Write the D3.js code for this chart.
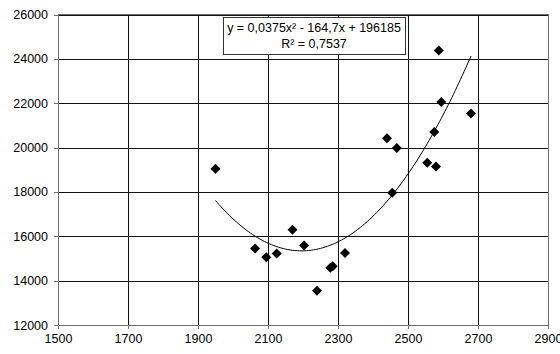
<!DOCTYPE html>
<html>
<head>
<meta charset="utf-8">
<script src="https://cdn.jsdelivr.net/npm/d3@7"></script>
<style>
  body { margin: 0; background: #fff; }
  text { font-family: "Liberation Sans", Arial, sans-serif; }
</style>
</head>
<body>
<div id="chart"></div>
<script>
// measured points (x, y)
const xValues = [1950, 2063, 2095, 2125, 2170, 2203, 2240, 2278, 2285, 2320,
                 2455, 2440, 2468, 2555, 2580, 2575, 2595, 2588, 2680];
const yValues = [19050, 15450, 15060, 15220, 16300, 15590, 13540, 14580, 14650, 15250,
                 17960, 20420, 19980, 19320, 19150, 20700, 22050, 24380, 21540];

const xTicks = [1500, 1700, 1900, 2100, 2300, 2500, 2700, 2900];
const yTicks = [12000, 14000, 16000, 18000, 20000, 22000, 24000, 26000];

// polynomial trendline, order 2: a*x^2 + b*x + c
const trendCoef = [0.0375, -164.7, 196185];
const trendLabel = ['y = 0,0375x² - 164,7x + 196185', 'R² = 0,7537'];

const width = 560;
const height = 354;
const margin = { top: 14.5, right: 12, bottom: 29, left: 58 };

const x = d3.scaleLinear()
    .domain([1500, 2900])
    .range([margin.left, width - margin.right]);

const y = d3.scaleLinear()
    .domain([12000, 26000])
    .range([height - margin.bottom, margin.top]);

const svg = d3.select('#chart')
    .append('svg')
    .attr('width', width)
    .attr('height', height);

// Gridlines
svg.append('g')
    .attr('transform', `translate(0,${y(12000)})`)
    .call(d3.axisBottom(x).tickValues(xTicks).tickSize(-(y(12000) - y(26000))).tickFormat(() => ''))
    .call(g => g.select('.domain').remove())
    .selectAll('line')
    .attr('stroke', '#111')
    .attr('shape-rendering', 'crispEdges');

svg.append('g')
    .attr('transform', `translate(${x(1500)},0)`)
    .call(d3.axisLeft(y).tickValues(yTicks).tickSize(-(x(2900) - x(1500))).tickFormat(() => ''))
    .call(g => g.select('.domain').remove())
    .selectAll('line')
    .attr('stroke', '#111')
    .attr('shape-rendering', 'crispEdges');

// Plot border (top/right)
svg.append('rect')
    .attr('x', x(1500))
    .attr('y', y(26000))
    .attr('width', x(2900) - x(1500))
    .attr('height', y(12000) - y(26000))
    .attr('fill', 'none')
    .attr('stroke', '#707070')
    .attr('shape-rendering', 'crispEdges');

// Axes
const xAxis = svg.append('g')
    .attr('transform', `translate(0,${y(12000)})`)
    .call(d3.axisBottom(x).tickValues(xTicks).tickSize(4).tickSizeOuter(0).tickPadding(5).tickFormat(d3.format('d')));
xAxis.select('.domain').attr('stroke', '#707070');
xAxis.selectAll('line').attr('stroke', '#707070');
xAxis.selectAll('text').attr('font-size', '12.5px').attr('fill', '#000');

const yAxis = svg.append('g')
    .attr('transform', `translate(${x(1500)},0)`)
    .call(d3.axisLeft(y).tickValues(yTicks).tickSize(4).tickSizeOuter(0).tickPadding(6).tickFormat(d3.format('d')));
yAxis.select('.domain').attr('stroke', '#707070');
yAxis.selectAll('line').attr('stroke', '#707070');
yAxis.selectAll('text').attr('font-size', '12.5px').attr('fill', '#000');

svg.selectAll('.tick line, .domain').attr('shape-rendering', 'crispEdges');

// Trendline
const xMin = d3.min(xValues);
const xMax = d3.max(xValues);
const curve = d3.range(xMin, xMax + 1, 5).map(v => [v, trendCoef[0] * v * v + trendCoef[1] * v + trendCoef[2]]);
svg.append('path')
    .datum(curve)
    .attr('fill', 'none')
    .attr('stroke', '#000')
    .attr('stroke-width', 1)
    .attr('d', d3.line().x(d => x(d[0])).y(d => y(d[1])));

// Points
const points = xValues.map((v, i) => [v, yValues[i]]);
svg.append('g')
    .selectAll('path')
    .data(points)
    .enter()
    .append('path')
    .attr('transform', d => `translate(${x(d[0])},${y(d[1])})`)
    .attr('d', 'M0,-5L5,0L0,5L-5,0Z')
    .attr('fill', '#000');

// Equation box
const box = svg.append('g').attr('transform', 'translate(223,17)');
box.append('rect')
    .attr('width', 182)
    .attr('height', 37)
    .attr('fill', '#fff')
    .attr('stroke', '#333')
    .attr('shape-rendering', 'crispEdges');
box.selectAll('text')
    .data(trendLabel)
    .enter()
    .append('text')
    .attr('x', 91)
    .attr('y', (d, i) => 15 + i * 16)
    .attr('text-anchor', 'middle')
    .attr('font-size', '12.5px')
    .text(d => d);
</script>
</body>
</html>
